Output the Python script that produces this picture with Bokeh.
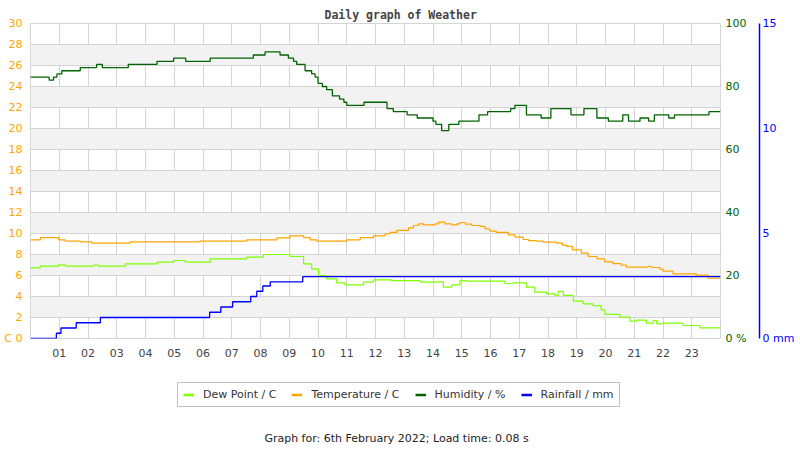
from bokeh.plotting import figure
from bokeh.models import Range1d, LinearAxis, FixedTicker, Legend, LegendItem, Title, Label
from bokeh.layouts import column
from bokeh.embed import file_html
from bokeh.resources import INLINE

# ---------------- data (hours of day, step change points) ----------------
hour_ticks = list(range(1, 24))
hour_labels = ["%02d" % h for h in hour_ticks]
temp_ticks = list(range(0, 31, 2))
hum_ticks = [0, 20, 40, 60, 80, 100]
rain_ticks = [0, 5, 10, 15]
temp_unit = "C"
hum_unit = "%"
rain_unit = "mm"

dew_t = [0, 0.34, 0.98, 1.21, 2.2, 2.37, 3.3, 4.4, 4.98, 5.38,
         6.25, 7.52, 8.1, 9.03, 9.5, 9.78, 10.02, 10.3, 10.65, 10.94,
         11.58, 11.92, 12.56, 13.55, 14.07, 14.36, 14.65, 14.94, 15.17, 16.5,
         16.79, 17.25, 17.54, 17.95, 18.24, 18.35, 18.53, 18.88, 19.22, 19.57,
         19.85, 19.98, 20.5, 20.85, 21.08, 21.43, 21.66, 21.78, 22.0, 22.7,
         23.28]
dew_v = [6.73, 6.89, 7.02, 6.89, 7.0, 6.89, 7.11, 7.27, 7.43, 7.27,
         7.59, 7.75, 8.0, 7.81, 7.1, 6.63, 6.0, 5.68, 5.3, 5.11,
         5.37, 5.59, 5.52, 5.37, 5.4, 4.89, 5.11, 5.52, 5.46, 5.24,
         5.3, 4.89, 4.41, 4.25, 4.1, 4.48, 4.1, 3.56, 3.3, 3.14,
         2.73, 2.29, 2.03, 1.65, 1.75, 1.46, 1.7, 1.4, 1.46, 1.24,
         1.02]

temp_t = [0, 0.35, 0.98, 1.21, 1.73, 2.14, 3.47, 5.9, 7.52, 8.57,
          9.03, 9.5, 9.73, 9.96, 11.0, 11.47, 11.93, 12.33, 12.5, 12.74,
          13.15, 13.32, 13.49, 13.67, 14.07, 14.19, 14.42, 14.65, 14.83, 14.94,
          15.12, 15.35, 15.64, 15.81, 15.98, 16.2, 16.62, 16.85, 17.14, 17.32,
          17.6, 17.84, 18.3, 18.5, 18.65, 18.85, 19.16, 19.4, 19.7, 19.97,
          20.26, 20.55, 20.73, 21.48, 21.6, 21.89, 22.0, 22.35, 23.16, 23.57]
temp_v = [9.4, 9.6, 9.4, 9.27, 9.2, 9.08, 9.2, 9.27, 9.4, 9.59,
          9.78, 9.6, 9.4, 9.27, 9.4, 9.6, 9.78, 9.97, 10.1, 10.29,
          10.54, 10.76, 10.92, 10.83, 10.92, 11.08, 10.92, 10.83, 10.92, 11.05,
          10.9, 10.76, 10.67, 10.44, 10.22, 10.1, 9.87, 9.65, 9.43, 9.33,
          9.27, 9.17, 9.08, 8.9, 8.78, 8.44, 8.13, 7.81, 7.59, 7.3,
          7.14, 6.98, 6.79, 6.88, 6.76, 6.6, 6.41, 6.16, 6.03, 5.74]

hum_t = [0, 0.65, 0.8, 0.92, 1.09, 1.73, 2.3, 2.5, 3.4, 4.4,
         4.98, 5.4, 6.25, 7.75, 8.16, 8.68, 8.97, 9.15, 9.26, 9.55,
         9.78, 9.9, 10.0, 10.15, 10.3, 10.5, 10.75, 10.9, 11.0, 11.6,
         12.4, 12.62, 13.1, 13.45, 14.0, 14.1, 14.3, 14.55, 14.9, 15.6,
         15.9, 16.7, 16.85, 17.25, 17.76, 18.1, 18.8, 19.25, 19.7, 20.1,
         20.6, 20.8, 21.2, 21.5, 21.7, 22.2, 22.4, 23.6]
hum_v = [83, 82, 83, 84, 85, 86, 87, 86, 87, 88,
         89, 88, 89, 90, 91, 90, 89, 88, 87, 85,
         84, 83, 81, 80, 79, 77, 76, 75, 74, 75,
         73, 72, 71, 70, 69, 68, 66, 68, 69, 71,
         72, 73, 74, 71, 70, 73, 71, 73, 70, 69,
         71, 69, 70, 69, 71, 70, 71, 72]

rain_t = [0, 0.9, 1.06, 1.59, 2.43, 6.23, 6.62, 7.03, 7.66, 7.87, 8.08, 8.34, 9.47]
rain_v = [0, 0.25, 0.5, 0.75, 1.0, 1.25, 1.5, 1.75, 2.0, 2.25, 2.5, 2.7, 2.95]

series_names = ["Dew Point / C", "Temperature / C", "Humidity / %", "Rainfall / mm"]
footer_text = "Graph for: 6th February 2022; Load time: 0.08 s"

END_HOUR = 24

DEW_C = "#7FFF00"
TEMP_C = "#FFA500"
HUM_C = "#006400"
RAIN_C = "#0000FF"
FONT = "DejaVu Sans"
GRID_C = "#d4d4d4"

def ext(t, v):
    return list(t) + [END_HOUR], list(v) + [v[-1]]

p = figure(width=800, height=375, output_backend="svg", toolbar_location=None,
           x_range=Range1d(0, 24), y_range=Range1d(0, 30),
           min_border_left=30, min_border_right=80, min_border_top=23,
           min_border_bottom=37)
p.extra_y_ranges = {"hum": Range1d(0, 100), "rain": Range1d(0, 15)}

title = Title(text="Daily graph of Weather", align="left", offset=294,
              text_font="DejaVu Sans Mono", text_font_style="bold",
              text_font_size="11.5px", text_color="#444444", standoff=4)
p.add_layout(title, "above")

p.outline_line_color = GRID_C
p.background_fill_color = "white"
p.border_fill_color = "white"

# x axis
p.xaxis.ticker = FixedTicker(ticks=hour_ticks)
p.xaxis.major_label_overrides = {h: lab for h, lab in zip(hour_ticks, hour_labels)}
p.xaxis.axis_line_color = None
p.xaxis.major_tick_line_color = None
p.xaxis.major_tick_out = 0
p.xaxis.major_tick_in = 0
p.xaxis.minor_tick_line_color = None
p.xaxis.minor_tick_out = 0
p.xaxis.major_label_standoff = 10
p.xaxis.major_label_text_font = FONT
p.xaxis.major_label_text_font_size = "11px"
p.xaxis.major_label_text_color = "#444444"

# left axis (C)
p.yaxis.ticker = FixedTicker(ticks=temp_ticks)
p.yaxis.major_label_overrides = {0: temp_unit + " 0"}
p.yaxis.axis_line_color = None
p.yaxis.major_tick_line_color = None
p.yaxis.major_tick_out = 0
p.yaxis.major_tick_in = 0
p.yaxis.minor_tick_line_color = None
p.yaxis.minor_tick_out = 0
p.yaxis.major_label_standoff = 8
p.yaxis.major_label_text_font = FONT
p.yaxis.major_label_text_font_size = "11px"
p.yaxis.major_label_text_color = TEMP_C

# grids
p.xgrid.ticker = FixedTicker(ticks=hour_ticks)
p.xgrid.grid_line_color = GRID_C
p.ygrid.grid_line_color = GRID_C
p.ygrid.band_fill_color = "#f2f2f2"
p.ygrid.band_fill_alpha = 1.0

# humidity axis
hum_axis = LinearAxis(y_range_name="hum", ticker=FixedTicker(ticks=hum_ticks),
                      major_label_overrides={0: "0 " + hum_unit},
                      axis_line_color=None, major_tick_line_color=None,
                      major_tick_out=0, major_tick_in=0,
                      minor_tick_line_color=None, minor_tick_out=0,
                      major_label_standoff=5,
                      major_label_text_font=FONT, major_label_text_font_size="11px",
                      major_label_text_color=HUM_C,
                      axis_label=" ", axis_label_text_font_size="7px",
                      axis_label_standoff=0)
p.add_layout(hum_axis, "right")

# rainfall axis
rain_axis = LinearAxis(y_range_name="rain", ticker=FixedTicker(ticks=rain_ticks),
                       major_label_overrides={0: "0 " + rain_unit},
                       axis_line_color=RAIN_C, axis_line_width=1.5,
                       major_tick_line_color=None, major_tick_out=0, major_tick_in=0,
                       minor_tick_line_color=None, minor_tick_out=0,
                       major_label_standoff=3,
                       major_label_text_font=FONT, major_label_text_font_size="11px",
                       major_label_text_color=RAIN_C)
p.add_layout(rain_axis, "right")

# series
x, y = ext(dew_t, dew_v)
p.step(x, y, mode="after", line_color=DEW_C, line_width=1.2)
x, y = ext(temp_t, temp_v)
p.step(x, y, mode="after", line_color=TEMP_C, line_width=1.2)
x, y = ext(hum_t, hum_v)
p.step(x, y, mode="after", line_color=HUM_C, line_width=1.3, y_range_name="hum")
x, y = ext(rain_t, rain_v)
p.step(x, y, mode="after", line_color=RAIN_C, line_width=1.3, y_range_name="rain")

# ---------------- lower strip: legend + footer ----------------
q = figure(width=800, height=75, output_backend="svg", toolbar_location=None,
           x_range=Range1d(0, 800), y_range=Range1d(0, 75),
           x_axis_type=None, y_axis_type=None, min_border=0)
q.outline_line_color = None
q.grid.visible = False
q.background_fill_color = "white"
q.border_fill_color = "white"

cols = [DEW_C, TEMP_C, HUM_C, RAIN_C]
items = []
for n, c in zip(series_names, cols):
    # one-point line: draws nothing itself, only provides the legend swatch
    r = q.line([0], [0], line_color=c, line_width=2.5)
    items.append(LegendItem(label=n, renderers=[r]))
legend = Legend(items=items, orientation="horizontal", location=(147, 43),
                border_line_color="#888888", border_line_width=1,
                padding=5, spacing=15, label_standoff=9, glyph_width=11,
                glyph_height=13, label_height=13, margin=0,
                label_text_font=FONT, label_text_font_size="11px",
                label_text_color="#333333", background_fill_alpha=1.0)
q.add_layout(legend, "center")

q.add_layout(Label(x=366, y=12, x_units="screen", y_units="screen", text=footer_text,
                   text_font=FONT, text_font_size="11px", text_color="#222222",
                   text_align="center", text_baseline="middle"))

open("out.html", "w").write(file_html(column(p, q, spacing=0), INLINE))
